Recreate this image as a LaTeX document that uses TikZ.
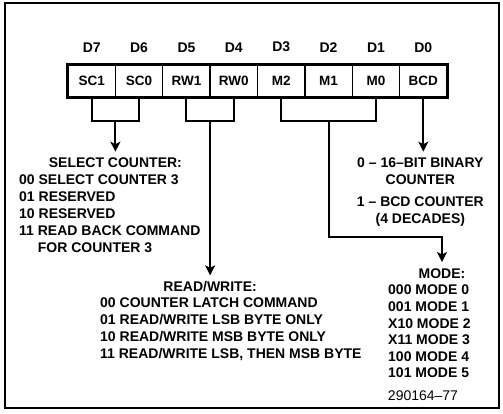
\documentclass[tikz,border=0pt]{standalone}
\usepackage{fontspec}
\setmainfont{Liberation Sans}
\usetikzlibrary{arrows.meta,positioning,calc}

\begin{document}
\begin{tikzpicture}[x=1pt, y=-1pt,
    txt/.style={font=\fontsize{14}{17}\selectfont\bfseries, inner sep=0pt},
    bitbox/.style={draw, line width=1.3pt, minimum width=47.375pt, minimum height=32pt, inner sep=0pt, font=\fontsize{13.5}{17}\selectfont\bfseries},
    wire/.style={line width=2pt},
    arr/.style={wire, -{Stealth[length=10pt,width=10pt,inset=2.5pt]}, shorten >=6pt}]
    \useasboundingbox (0,0) rectangle (503,413);
    % Draw the outer frame
    \draw[line width=1.6pt] (5,3) rectangle (499,408);

    % Draw the control word bits
    \foreach \lab [count=\i from 0] in {SC1,SC0,RW1,RW0,M2,M1,M0,BCD} {
        \pgfmathtruncatemacro{\bit}{7-\i}
        \node[bitbox] (c\bit) at (91.7+47.375*\i, 81) {\lab};
        \node[txt, above=12pt of c\bit] (d\bit) {D\bit};
    }
    \draw[line width=2.6pt] (c7.north west) rectangle (c0.south east);

    % Draw the brackets under the bit groups
    \draw[wire] (c7.south) -- ++(0,23) -| (c6.south);
    \draw[wire] (c5.south) -- ++(0,23) -| (c4.south);
    \draw[wire] (c3.south) -- ++(0,23) -| (c1.south);
    \coordinate (scm) at ($(c7.south)!0.5!(c6.south)+(0,23)$);
    \coordinate (rwm) at ($(c5.south)!0.5!(c4.south)+(0,23)$);
    \coordinate (mm) at ($(c3.south)!0.5!(c1.south)+(0,23)$);

    % Select counter
    \node[txt, anchor=base] (sel) at ($(scm)+(0,47)$) {SELECT COUNTER:};
    \node[txt, align=left, anchor=north west] (selbody) at (19,175) {00 SELECT COUNTER 3\\01 RESERVED\\10 RESERVED\\11 READ BACK COMMAND\\\phantom{11 }FOR COUNTER 3};
    \draw[arr] (scm) -- (sel);

    % Read/write
    \node[txt, anchor=base] (rw) at ($(rwm)+(0,171)$) {READ/WRITE:};
    \node[txt, align=left, anchor=north west] (rwbody) at (100,298) {00 COUNTER LATCH COMMAND\\01 READ/WRITE LSB BYTE ONLY\\10 READ/WRITE MSB BYTE ONLY\\11 READ/WRITE LSB, THEN MSB BYTE};
    \draw[arr] (rwm) -- (rw);

    % BCD
    \node[txt, align=center, anchor=north] (bcd) at ($(c0.south)+(-3,60)$) {0 -- 16--BIT BINARY\\COUNTER\\[5pt]1 -- BCD COUNTER\\(4 DECADES)};
    \draw[arr] (c0.south) -- (c0.south |- bcd.north);

    % Mode
    \node[txt, anchor=base] (mode) at (442,278) {MODE:};
    \node[txt, font=\fontsize{14}{16.6}\selectfont\bfseries, align=left, anchor=north west] (modebody) at (388,285) {000 MODE 0\\001 MODE 1\\X10 MODE 2\\X11 MODE 3\\100 MODE 4\\101 MODE 5};
    \draw[arr] (mm) |- ($(mode.north)+(0,-31)$) -- (mode);

    \node[txt, font=\fontsize{14}{17}\selectfont, anchor=base] (fig) at (423,400) {290164--77};
\end{tikzpicture}
\end{document}
